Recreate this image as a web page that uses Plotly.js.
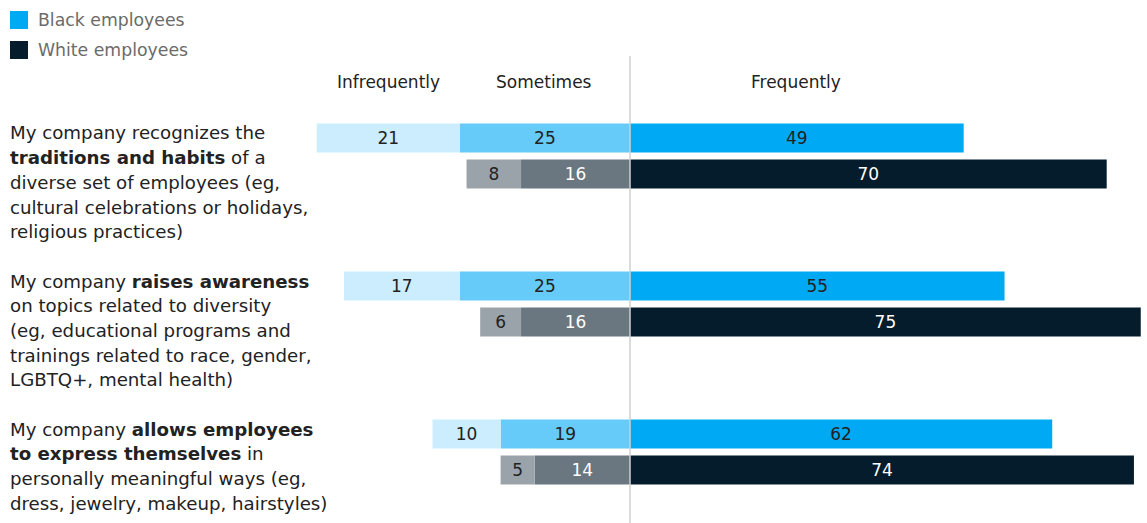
<!DOCTYPE html>
<html>
<head>
<meta charset="utf-8">
<script src="https://cdn.plot.ly/plotly-3.0.1.min.js"></script>
<style>
  html, body { margin: 0; padding: 0; background: #fff; }
  #chart { width: 1147px; height: 523px; }
</style>
</head>
<body>
<div id="chart"></div>
<script>
// Statements shown down the left side (one entry per row, lines split by <br>)
const statements = [
  "My company recognizes the<br><b>traditions and habits</b> of a<br>diverse set of employees (eg,<br>cultural celebrations or holidays,<br>religious practices)",
  "My company <b>raises awareness</b><br>on topics related to diversity<br>(eg, educational programs and<br>trainings related to race, gender,<br>LGBTQ+, mental health)",
  "My company <b>allows employees</b><br><b>to express themselves</b> in<br>personally meaningful ways (eg,<br>dress, jewelry, makeup, hairstyles)"
];

const groups = ["Black employees", "White employees"];
const columns = ["Infrequently", "Sometimes", "Frequently"];

// Share of respondents, %
const blackInfrequently = [21, 17, 10];
const blackSometimes    = [25, 25, 19];
const blackFrequently   = [49, 55, 62];
const whiteInfrequently = [8, 6, 5];
const whiteSometimes    = [16, 16, 14];
const whiteFrequently   = [70, 75, 74];

// ---- geometry (pixels) ----
const W = 1147, H = 523;
const zeroX = 630;          // divider between "Sometimes" and "Frequently"
const pxPerUnit = 6.81;
const firstBarY = 138;      // centre of the first bar
const pairGap = 36;         // distance between the two bars of a row
const rowStep = 148;        // distance between rows
const barH = 29;

const FONT = "DejaVu Sans, sans-serif";
const TXT = "#222222";

const rowY = (i, g) => firstBarY + i * rowStep + g * pairGap;

function barTrace(values, sign, color, textColor, g) {
  return {
    type: "bar",
    orientation: "h",
    x: values.map(v => sign * v),
    y: values.map((_, i) => rowY(i, g)),
    width: values.map(() => barH),
    text: values.map(v => String(v)),
    textposition: "inside",
    insidetextanchor: "middle",
    textangle: 0,
    constraintext: "none",
    textfont: { family: FONT, size: 17, color: textColor },
    marker: { color: color, line: { width: 0 } },
    hoverinfo: "skip",
    showlegend: false
  };
}

// Negative values stack leftwards in trace order: Sometimes first, then Infrequently
const traces = [
  barTrace(blackSometimes,    -1, "#66cbf8", TXT, 0),
  barTrace(blackInfrequently, -1, "#ccedfd", TXT, 0),
  barTrace(blackFrequently,    1, "#00a9f4", TXT, 0),
  barTrace(whiteSometimes,    -1, "#6a7680", "#ffffff", 1),
  barTrace(whiteInfrequently, -1, "#9ba3aa", TXT, 1),
  barTrace(whiteFrequently,    1, "#051c2c", "#ffffff", 1)
];

const px = x => x / W;
const py = y => 1 - y / H;

const annotations = [];
const shapes = [];

// Legend
const legendColors = ["#00a9f4", "#051c2c"];
groups.forEach((name, g) => {
  const cy = 20 + g * 30;
  shapes.push({
    type: "rect", xref: "paper", yref: "paper",
    x0: px(10), x1: px(28), y0: py(cy - 9), y1: py(cy + 9),
    fillcolor: legendColors[g], line: { width: 0 }
  });
  annotations.push({
    xref: "paper", yref: "paper", x: px(37), y: py(cy),
    xanchor: "left", yanchor: "middle", showarrow: false, borderpad: 0,
    text: name, font: { family: FONT, size: 17.3, color: "#6b6b6b" }
  });
});

// Column headers
const headerX = [388, 544, 796];
columns.forEach((c, k) => {
  annotations.push({
    xref: "paper", yref: "paper", x: px(headerX[k]), y: py(82),
    xanchor: "center", yanchor: "middle", showarrow: false,
    text: c, font: { family: FONT, size: 17, color: TXT }
  });
});

// Row statements, one annotation per line
const linePitch = 24.7;
statements.forEach((s, i) => {
  s.split("<br>").forEach((line, j) => {
    annotations.push({
      xref: "paper", yref: "paper", x: px(9), y: py(rowY(i, 0) - 5 + j * linePitch),
      xanchor: "left", yanchor: "middle", showarrow: false, borderpad: 0,
      text: line, font: { family: FONT, size: 18.2, color: TXT }
    });
  });
});

// Vertical divider at zero
shapes.push({
  type: "line", xref: "x", yref: "paper",
  x0: 0, x1: 0, y0: py(56), y1: 0,
  line: { color: "#d0d0d0", width: 1.5 }, layer: "above"
});

const layout = {
  width: W, height: H,
  margin: { l: 0, r: 0, t: 0, b: 0, pad: 0 },
  paper_bgcolor: "#ffffff", plot_bgcolor: "#ffffff",
  barmode: "relative",
  xaxis: { range: [-zeroX / pxPerUnit, (W - zeroX) / pxPerUnit], visible: false, fixedrange: true },
  yaxis: { range: [H, 0], visible: false, fixedrange: true },
  showlegend: false,
  annotations: annotations,
  shapes: shapes
};

Plotly.newPlot("chart", traces, layout, { staticPlot: true, displayModeBar: false });
</script>
</body>
</html>
